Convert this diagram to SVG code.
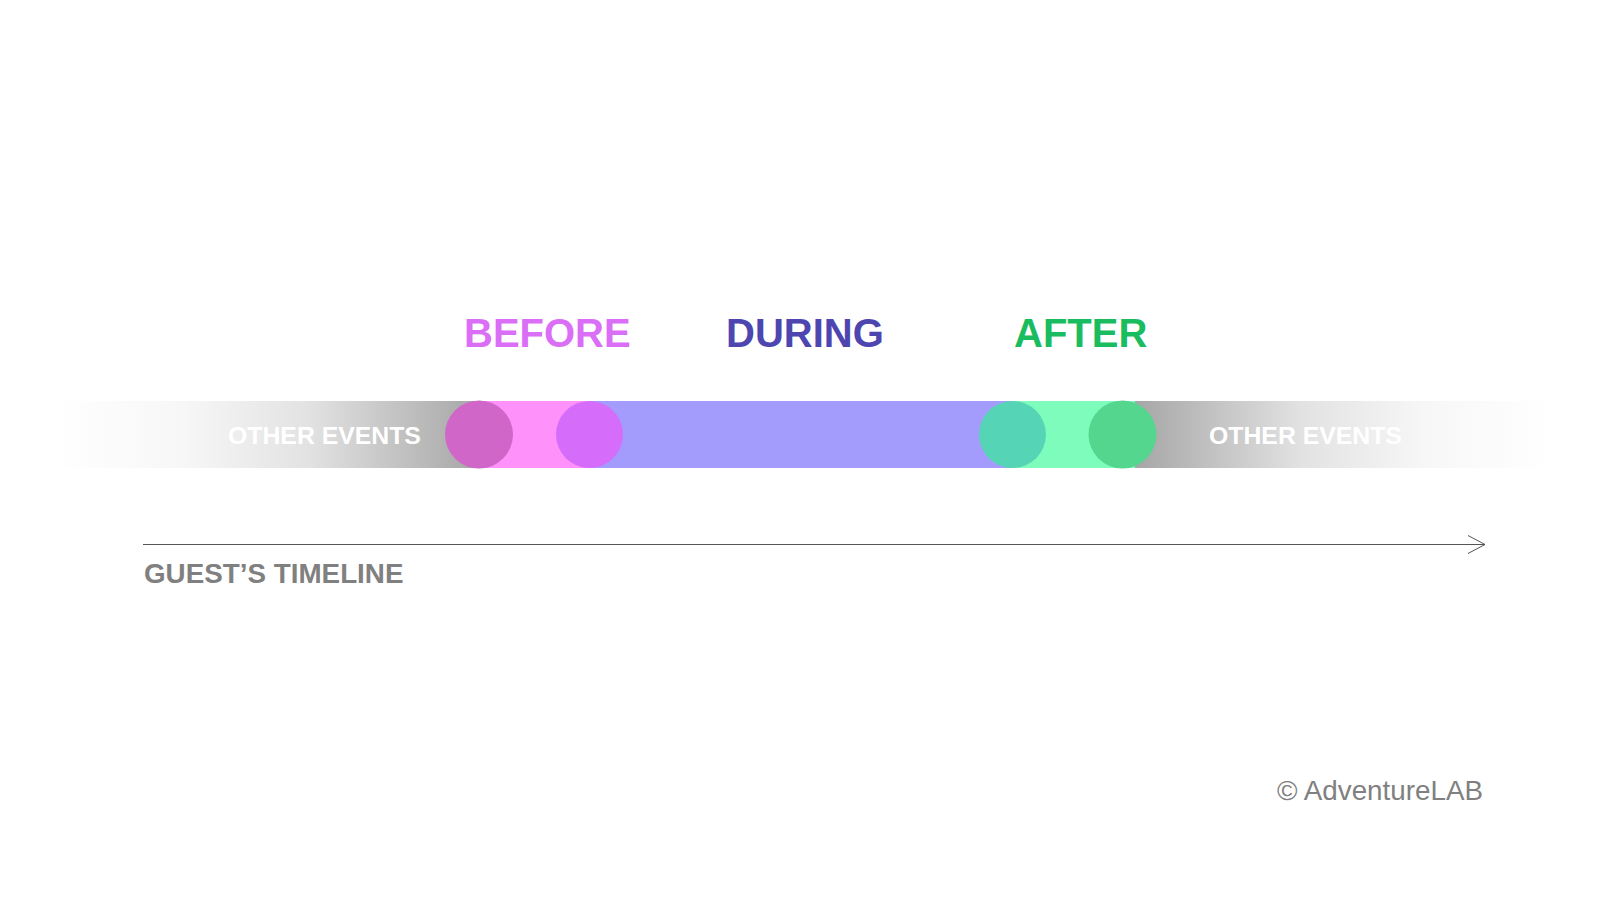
<svg xmlns="http://www.w3.org/2000/svg" width="1600" height="900" viewBox="0 0 1600 900">
  <defs>
    <linearGradient id="gl" x1="55" y1="0" x2="479" y2="0" gradientUnits="userSpaceOnUse">
      <stop offset="0" stop-color="#ffffff"/>
      <stop offset="0.3" stop-color="#f7f7f7"/>
      <stop offset="0.6" stop-color="#e2e2e2"/>
      <stop offset="1" stop-color="#a6a6a6"/>
    </linearGradient>
    <linearGradient id="gr" x1="1135" y1="0" x2="1550" y2="0" gradientUnits="userSpaceOnUse">
      <stop offset="0" stop-color="#a6a6a6"/>
      <stop offset="0.4" stop-color="#e2e2e2"/>
      <stop offset="0.7" stop-color="#f7f7f7"/>
      <stop offset="1" stop-color="#ffffff"/>
    </linearGradient>
    <marker id="arr" markerWidth="20" markerHeight="22" refX="18" refY="10" orient="auto" markerUnits="userSpaceOnUse">
      <path d="M1,1 L18,10 L1,19" fill="none" stroke="#555555" stroke-width="1"/>
    </marker>
    <style>
      .title { font-family: "Liberation Sans", Arial, sans-serif; font-weight: bold; font-size: 40px; }
      .other { font-family: "Liberation Sans", Arial, sans-serif; font-weight: bold; font-size: 24.8px; fill: #ffffff; }
      .label { font-family: "Liberation Sans", Arial, sans-serif; font-weight: bold; font-size: 27.8px; fill: #808080; }
      .copy { font-family: "Liberation Sans", Arial, sans-serif; font-size: 27.8px; fill: #808080; }
    </style>
  </defs>
  <rect width="1600" height="900" fill="#ffffff"/>

  <g id="bands">
    <rect x="55" y="401" width="426" height="67" fill="url(#gl)"/>
    <rect x="479" y="401" width="112" height="67" fill="#fe92fa"/>
    <rect x="589" y="401" width="425" height="67" fill="#a39cfd"/>
    <rect x="1012" y="401" width="125" height="67" fill="#7efcbb"/>
    <rect x="1135" y="401" width="415" height="67" fill="url(#gr)"/>
  </g>

  <g id="other-left">
    <text class="other" x="228" y="444">OTHER EVENTS</text>
  </g>
  <g id="other-right">
    <text class="other" x="1209" y="444">OTHER EVENTS</text>
  </g>

  <g id="before-start"><circle cx="479" cy="434.5" r="34" fill="#cf66c8"/></g>
  <g id="before-end"><circle cx="589.5" cy="434.5" r="33.5" fill="#d56cfa"/></g>
  <g id="after-start"><circle cx="1012.5" cy="434.5" r="33.5" fill="#56d5b6"/></g>
  <g id="after-end"><circle cx="1122.5" cy="434.5" r="34" fill="#54d68f"/></g>

  <g id="before"><text class="title" x="464" y="347" fill="#da6ef6">BEFORE</text></g>
  <g id="during"><text class="title" x="726" y="347" fill="#4d45b0">DURING</text></g>
  <g id="after"><text class="title" x="1014" y="347" fill="#1abc60">AFTER</text></g>

  <g id="connectors">
    <line x1="143" y1="544.5" x2="1485" y2="544.5" stroke="#555555" stroke-width="1" marker-end="url(#arr)"/>
  </g>

  <g id="timeline-label"><text class="label" x="144" y="583">GUEST’S TIMELINE</text></g>
  <g id="copyright"><text class="copy" x="1483" y="800" text-anchor="end">© AdventureLAB</text></g>
</svg>
